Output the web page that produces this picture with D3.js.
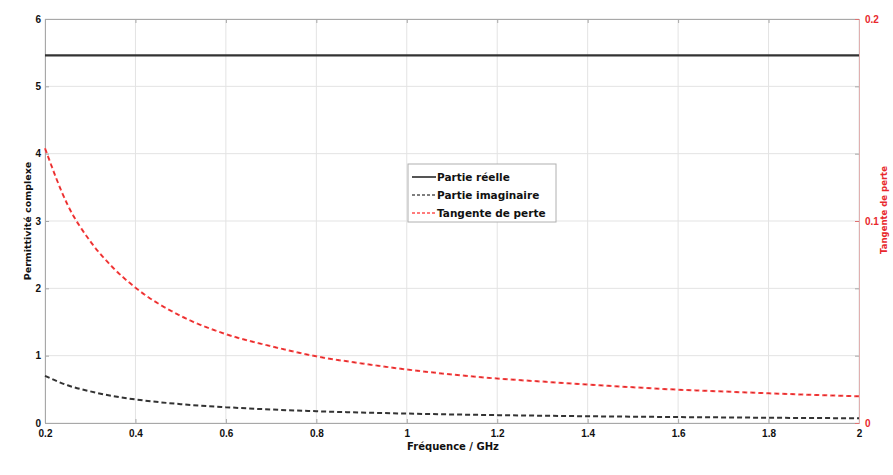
<!DOCTYPE html>
<html><head><meta charset="utf-8">
<script src="https://cdn.jsdelivr.net/npm/d3@7"></script>
<style>body{margin:0;background:#fff;} svg{display:block;font-family:"DejaVu Sans",Arial,sans-serif;}</style>
</head><body>
<svg id="c" width="893" height="475"></svg>
<script>
const freq = [0.2,0.25,0.3,0.35,0.4,0.5,0.6,0.7,0.8,0.9,1.0,1.1,1.2,1.3,1.4,1.5,1.6,1.7,1.8,1.9,2.0];
const realPart = [5.46,5.46,5.46,5.46,5.46,5.46,5.46,5.46,5.46,5.46,5.46,5.46,5.46,5.46,5.46,5.46,5.46,5.46,5.46,5.46,5.46];
const imagPart = [0.70,0.56,0.47,0.40,0.35,0.28,0.235,0.20,0.175,0.155,0.14,0.127,0.117,0.108,0.10,0.094,0.088,0.083,0.078,0.074,0.07];
const lossTan = [0.136,0.108,0.090,0.077,0.067,0.053,0.044,0.038,0.033,0.0295,0.0265,0.024,0.022,0.0205,0.019,0.0177,0.0165,0.0156,0.0147,0.0139,0.0132];
const xTicks = [0.2,0.4,0.6,0.8,1,1.2,1.4,1.6,1.8,2];
const yTicks = [0,1,2,3,4,5,6];
const y2Ticks = [0,0.1,0.2];
const legendLabels = ["Partie réelle","Partie imaginaire","Tangente de perte"];

const svg = d3.select("#c");
const L=45, R=859, T=19, B=423;
const x = d3.scaleLinear().domain([0.2,2]).range([L,R]);
const y = d3.scaleLinear().domain([0,6]).range([B,T]);
const y2 = d3.scaleLinear().domain([0,0.2]).range([B,T]);

// grid
svg.append("g").selectAll("line").data(xTicks).join("line")
  .attr("x1",d=>x(d)).attr("x2",d=>x(d)).attr("y1",T).attr("y2",B)
  .attr("stroke","#e3e3e3").attr("stroke-width",1);
svg.append("g").selectAll("line").data(yTicks).join("line")
  .attr("x1",L).attr("x2",R).attr("y1",d=>y(d)).attr("y2",d=>y(d))
  .attr("stroke","#e3e3e3").attr("stroke-width",1);

// axes
const fmt = d => String(d);
const ax = svg.append("g").attr("transform",`translate(0,${B})`)
  .call(d3.axisBottom(x).tickValues(xTicks).tickFormat(fmt).tickSize(-4).tickPadding(5));
const axTop = svg.append("g").attr("transform",`translate(0,${T})`)
  .call(d3.axisTop(x).tickValues(xTicks).tickFormat("").tickSize(-4));
const ay = svg.append("g").attr("transform",`translate(${L},0)`)
  .call(d3.axisLeft(y).tickValues(yTicks).tickFormat(fmt).tickSize(-4).tickPadding(4));
const ayR = svg.append("g").attr("transform",`translate(${R},0)`)
  .call(d3.axisRight(y).tickValues(yTicks).tickFormat("").tickSize(-4));
const ay2 = svg.append("g").attr("transform",`translate(${R},0)`)
  .call(d3.axisRight(y2).tickValues(y2Ticks).tickFormat(fmt).tickSize(-4).tickPadding(6));

[ax,axTop,ay,ayR].forEach(g=>{
  g.selectAll(".domain").attr("stroke","#a8a8a8");
  g.selectAll(".tick line").attr("stroke","#a8a8a8");
  g.selectAll("text").attr("fill","#111").attr("font-size",10).attr("font-weight","bold");
});
ay2.selectAll(".domain").attr("stroke","#e0b0b0");
ay2.selectAll(".tick line").attr("stroke","#e07070");
ay2.selectAll("text").attr("fill","#e8282d").attr("font-size",10).attr("font-weight","bold");
ax.selectAll("text").attr("dy","0.85em");

// lines
const line = (ys, sc) => d3.line().x((d,i)=>x(freq[i])).y(d=>sc(d)).curve(d3.curveMonotoneX)(ys);
svg.append("path").attr("d",line(realPart,y)).attr("fill","none").attr("stroke","#333").attr("stroke-width",2.2);
svg.append("path").attr("d",line(imagPart,y)).attr("fill","none").attr("stroke","#333").attr("stroke-width",2).attr("stroke-dasharray","5,3");
svg.append("path").attr("d",line(lossTan,y2)).attr("fill","none").attr("stroke","#ff4040").attr("stroke-width",2).attr("stroke-dasharray","5,3");
svg.append("path").attr("d",line(lossTan,y2)).attr("fill","none").attr("stroke","#8a2020").attr("stroke-width",1).attr("stroke-dasharray","2,6").attr("stroke-dashoffset",-1.5).attr("opacity",0.6);

// axis labels
svg.append("text").attr("x",453).attr("y",450).attr("text-anchor","middle")
  .attr("font-size",10).attr("font-weight","bold").attr("fill","#111").text("Fréquence / GHz");
svg.append("text").attr("transform",`translate(31,${(T+B)/2}) rotate(-90)`).attr("text-anchor","middle")
  .attr("font-size",9.5).attr("font-weight","bold").attr("fill","#111").text("Permittivité complexe");
svg.append("text").attr("transform",`translate(887,${(T+B)/2-11}) rotate(-90)`).attr("text-anchor","middle")
  .attr("font-size",8.5).attr("font-weight","bold").attr("fill","#e8282d").text("Tangente de perte");

// legend
const lg = svg.append("g");
lg.append("rect").attr("x",408).attr("y",164).attr("width",148).attr("height",58)
  .attr("fill","#fff").attr("stroke","#b0b0b0").attr("stroke-width",1);
const styles = [
  {stroke:"#555",dash:null,w:2},
  {stroke:"#555",dash:"3,2",w:1.6},
  {stroke:"#ff5050",dash:"3,2",w:1.6}
];
legendLabels.forEach((t,i)=>{
  const yy = 177 + i*18;
  lg.append("line").attr("x1",412).attr("x2",436).attr("y1",yy).attr("y2",yy)
    .attr("stroke",styles[i].stroke).attr("stroke-width",styles[i].w).attr("stroke-dasharray",styles[i].dash);
  lg.append("text").attr("x",437).attr("y",yy+4).attr("font-size",10.5).attr("font-weight","bold")
    .attr("fill","#111").text(t);
});
</script>
</body></html>
